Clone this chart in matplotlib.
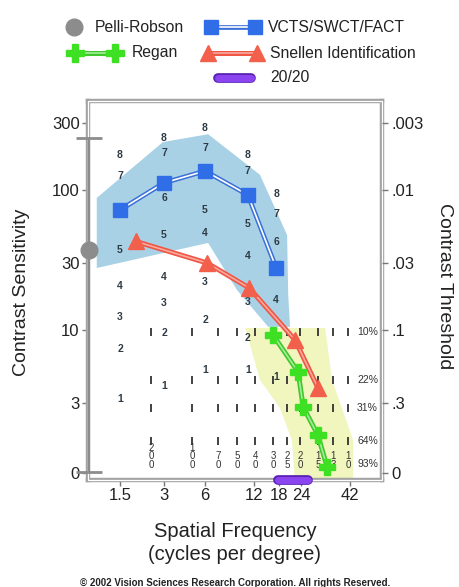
import numpy as np
import matplotlib.pyplot as plt
from matplotlib.patches import Rectangle, Polygon

plt.rcParams['font.family'] = ['Liberation Sans', 'DejaVu Sans']

# ---- axes ----
freq_ticks = [1.5, 3, 6, 12, 18, 24, 42]
freq_labels = ['1.5', '3', '6', '12', '18', '24', '42']
cs_ticks = [300, 100, 30, 10, 3, 0.95]
cs_labels = ['300', '100', '30', '10', '3', '0']
thr_labels = ['.003', '.01', '.03', '.1', '.3', '0']

# ---- data ----
# VCTS / SWCT / FACT
vcts_freq = [1.5, 3, 6, 11, 17.2]
vcts_cs = [71.7, 112, 136, 91.8, 27.6]
# contrast levels 1..8 printed on each VCTS column (nan = hidden)
vcts_level_cs = [
    [3.2, 7.3, 12.3, 20.6, 37.2, 71.7, 125, 177],
    [4.0, 9.5, 15.5, 23.8, 47.5, 87.4, 183, 234],
    [5.2, 11.8, 22.0, 49.1, 71.7, 136, 199, 276],
    [5.2, 8.7, 15.8, 33.6, 57.0, 91.8, 136, 177],
    [4.6, np.nan, np.nan, 16.3, 27.6, 42.4, 67.1, 93.1],
]
vcts_band_freq = [1.04, 2.95, 6.27, 13.2, 20.0, 20.3, 20.8, 15.1, 9.44, 6.27, 1.04]
vcts_band_cs = [87.4, 219, 249, 128, 47.5, 17.7, 10.5, 10.5, 19.2, 41.7, 27.6]

# Snellen identification
snellen_freq = [1.93, 6.17, 11.2, 22.2, 29.1]
snellen_cs = [42.7, 30, 19.9, 8.45, 3.85]

# Regan
regan_freq = [16.3, 23.1, 24.6, 29.1, 32.3]
regan_cs = [9.2, 5.0, 2.81, 1.77, 1.05]
regan_band_freq = [10.6, 31.6, 34.2, 43.5, 43.5, 22.2, 21.3, 18.2, 13.2]
regan_band_cs = [10.3, 10.3, 4.39, 1.63, 0.8, 0.8, 1.63, 2.77, 4.39]

# Regan chart grid: acuity columns and contrast rows
chart_freq = [2.45, 4.82, 7.21, 9.44, 12.2, 16.3, 20.0, 23.7, 29.1, 34.6, 41.0]
chart_denom = ['200', '100', '70', '50', '40', '30', '25', '20', '15', '13', '10']
chart_rows_cs = [9.6, 4.39, 2.77, 1.6]
row_label_cs = [9.6, 4.39, 2.77, 1.6, 1.1]
row_labels = ['10%', '22%', '31%', '64%', '93%']

# Pelli-Robson
pelli_freq = 0.92
pelli_cs = 37
pelli_range = [0.964, 234]

# 20/20 acuity
acuity_2020 = [17.6, 26.0]

# ---- frequency scale (log, stretched as in the original) ----
anchor_f = np.array([0.75, 1.5, 3, 6, 12, 18, 24, 42, 84])
anchor_p = np.array([76, 120, 164, 205, 254, 279, 301, 350, 410.7])


def fwd(f):
    f = np.asarray(f, dtype=float)
    return np.interp(np.log2(np.clip(f, 1e-6, None)), np.log2(anchor_f), anchor_p)


def inv(p):
    return 2 ** np.interp(np.asarray(p, dtype=float), anchor_p, np.log2(anchor_f))


fig = plt.figure(figsize=(4.6, 5.87), dpi=100, facecolor='white')
ax = fig.add_axes([88 / 460, 107 / 587, 294 / 460, 379 / 587])
ax.set_xscale('function', functions=(fwd, inv))
ax.set_yscale('log')
ax.set_xlim(0.906, 60.5)
ax.set_ylim(0.846, 430)

# normal ranges
ax.add_patch(Polygon(np.column_stack([vcts_band_freq, vcts_band_cs]), closed=True,
                     facecolor='#a9d1e6', edgecolor='none', zorder=1))
ax.add_patch(Polygon(np.column_stack([regan_band_freq, regan_band_cs]), closed=True,
                     facecolor='#f1f6bf', edgecolor='none', zorder=1))

# Regan chart grid marks
gx, gy = np.meshgrid(chart_freq, chart_rows_cs)
ax.plot(gx.ravel(), gy.ravel(), ls='none', marker='|', ms=6, mew=1.3,
        color='#333333', zorder=2)
for f, d in zip(chart_freq, chart_denom):
    ax.text(f, 1.0, '\n'.join(d), ha='center', va='bottom', fontsize=7,
            linespacing=0.8, color='#333333', zorder=2)
for c, lab in zip(row_label_cs, row_labels):
    ax.text(45.5, c, lab, ha='left', va='center', fontsize=7.5, color='#333333', zorder=2)

# VCTS contrast level numbers
for f, levels in zip(vcts_freq, vcts_level_cs):
    for i, c in enumerate(levels):
        if np.isnan(c):
            continue
        ax.text(f, c, str(i + 1), ha='center', va='center', fontsize=7.5,
                fontweight='bold', color='#2e3a44', zorder=2)

# series
ax.plot(vcts_freq, vcts_cs, color='#3a6fd8', lw=3.4, zorder=3)
ax.plot(vcts_freq, vcts_cs, color='white', lw=1.2, zorder=3)
ax.plot(vcts_freq, vcts_cs, ls='none', marker='s', ms=9.5, color='#2f6ee6', zorder=4)

ax.plot(snellen_freq, snellen_cs, color='#ef5646', lw=3.6, zorder=3)
ax.plot(snellen_freq, snellen_cs, color='#f8aa9c', lw=1.2, zorder=3)
ax.plot(snellen_freq, snellen_cs, ls='none', marker='^', ms=11, color='#f2604c', zorder=4)

ax.plot(regan_freq, regan_cs, color='#3fc82e', lw=3.6, zorder=3)
ax.plot(regan_freq, regan_cs, color='#a6ec98', lw=1.2, zorder=3)
ax.plot(regan_freq, regan_cs, ls='none', marker='P', ms=12, color='#3ee024', zorder=4)

ax.errorbar([pelli_freq], [pelli_cs],
            yerr=[[pelli_cs - pelli_range[0]], [pelli_range[1] - pelli_cs]],
            fmt='o', ms=12, color='#8c8c8c', ecolor='#8c8c8c', elinewidth=1.5,
            capsize=9.5, capthick=2, zorder=5, clip_on=False)

ax.plot(acuity_2020, [0.846, 0.846], color='#5a22b4', lw=7, solid_capstyle='round',
        zorder=6, clip_on=False)
ax.plot(acuity_2020, [0.846, 0.846], color='#8b45f0', lw=5, solid_capstyle='round',
        zorder=6, clip_on=False)

# frame: double grey line
for s in ax.spines.values():
    s.set_color('#a3a3a3')
    s.set_linewidth(3.2)
ax.add_patch(Rectangle((0, 0), 1, 1, transform=ax.transAxes, fill=False,
                       edgecolor='white', lw=0.9, zorder=2.6, clip_on=False))

ax.set_xticks(freq_ticks, freq_labels)
ax.xaxis.set_minor_locator(plt.NullLocator())
ax.set_yticks(cs_ticks, cs_labels)
ax.yaxis.set_minor_locator(plt.NullLocator())
ax.tick_params(direction='out', length=4, width=1, color='#777777',
               labelsize=12, labelcolor='#222222', pad=2)

ax2 = ax.twinx()
ax2.set_yscale('log')
ax2.set_ylim(ax.get_ylim())
ax2.set_yticks(cs_ticks, thr_labels)
ax2.yaxis.set_minor_locator(plt.NullLocator())
ax2.tick_params(direction='out', length=4, width=1, color='#777777',
                labelsize=12, labelcolor='#222222', pad=3)
for s in ax2.spines.values():
    s.set_visible(False)

fig.text(22 / 460, 1 - 292 / 587, 'Contrast Sensitivity', rotation=90,
         ha='center', va='center', fontsize=14, color='#222222')
fig.text(445 / 460, 1 - 286 / 587, 'Contrast Threshold', rotation=270,
         ha='center', va='center', fontsize=14, color='#222222')
fig.text(235 / 460, 1 - 543 / 587, 'Spatial Frequency\n(cycles per degree)',
         ha='center', va='center', fontsize=14.5, linespacing=1.3, color='#222222')
fig.text(235 / 460, 1 - 583 / 587,
         '\u00a9 2002 Vision Sciences Research Corporation. All rights Reserved.',
         ha='center', va='center', fontsize=7, fontweight='bold', color='#222222')

# legend drawn in figure pixel space
lax = fig.add_axes([0, 0, 1, 1], facecolor='none')
lax.set_xlim(0, 460)
lax.set_ylim(587, 0)
lax.axis('off')
lax.plot([74], [27], 'o', ms=12, color='#8c8c8c')
lax.text(95, 27, 'Pelli-Robson', va='center', fontsize=11.3, color='#222222')
lax.plot([211, 255], [27, 27], color='#3a6fd8', lw=3.4)
lax.plot([211, 255], [27, 27], color='white', lw=1.2)
lax.plot([211, 255], [27, 27], ls='none', marker='s', ms=10, color='#2f6ee6')
lax.text(268, 27, 'VCTS/SWCT/FACT', va='center', fontsize=11.3, color='#222222')
lax.plot([75, 115], [53, 53], color='#3fc82e', lw=3.6)
lax.plot([75, 115], [53, 53], color='#a6ec98', lw=1.2)
lax.plot([75, 115], [53, 53], ls='none', marker='P', ms=13, color='#3ee024')
lax.text(132, 53, 'Regan', va='center', fontsize=11.3, color='#222222')
lax.plot([208, 257], [53, 53], color='#ef5646', lw=3.6)
lax.plot([208, 257], [53, 53], color='#f8aa9c', lw=1.2)
lax.plot([208, 257], [53, 53], ls='none', marker='^', ms=11, color='#f2604c')
lax.text(270, 53, 'Snellen Identification', va='center', fontsize=11.3, color='#222222')
lax.plot([218, 251], [78, 78], color='#5a22b4', lw=7, solid_capstyle='round')
lax.plot([218, 251], [78, 78], color='#8b45f0', lw=5, solid_capstyle='round')
lax.text(270, 78, '20/20', va='center', fontsize=11.3, color='#222222')

fig.savefig('out.png', dpi=100)
